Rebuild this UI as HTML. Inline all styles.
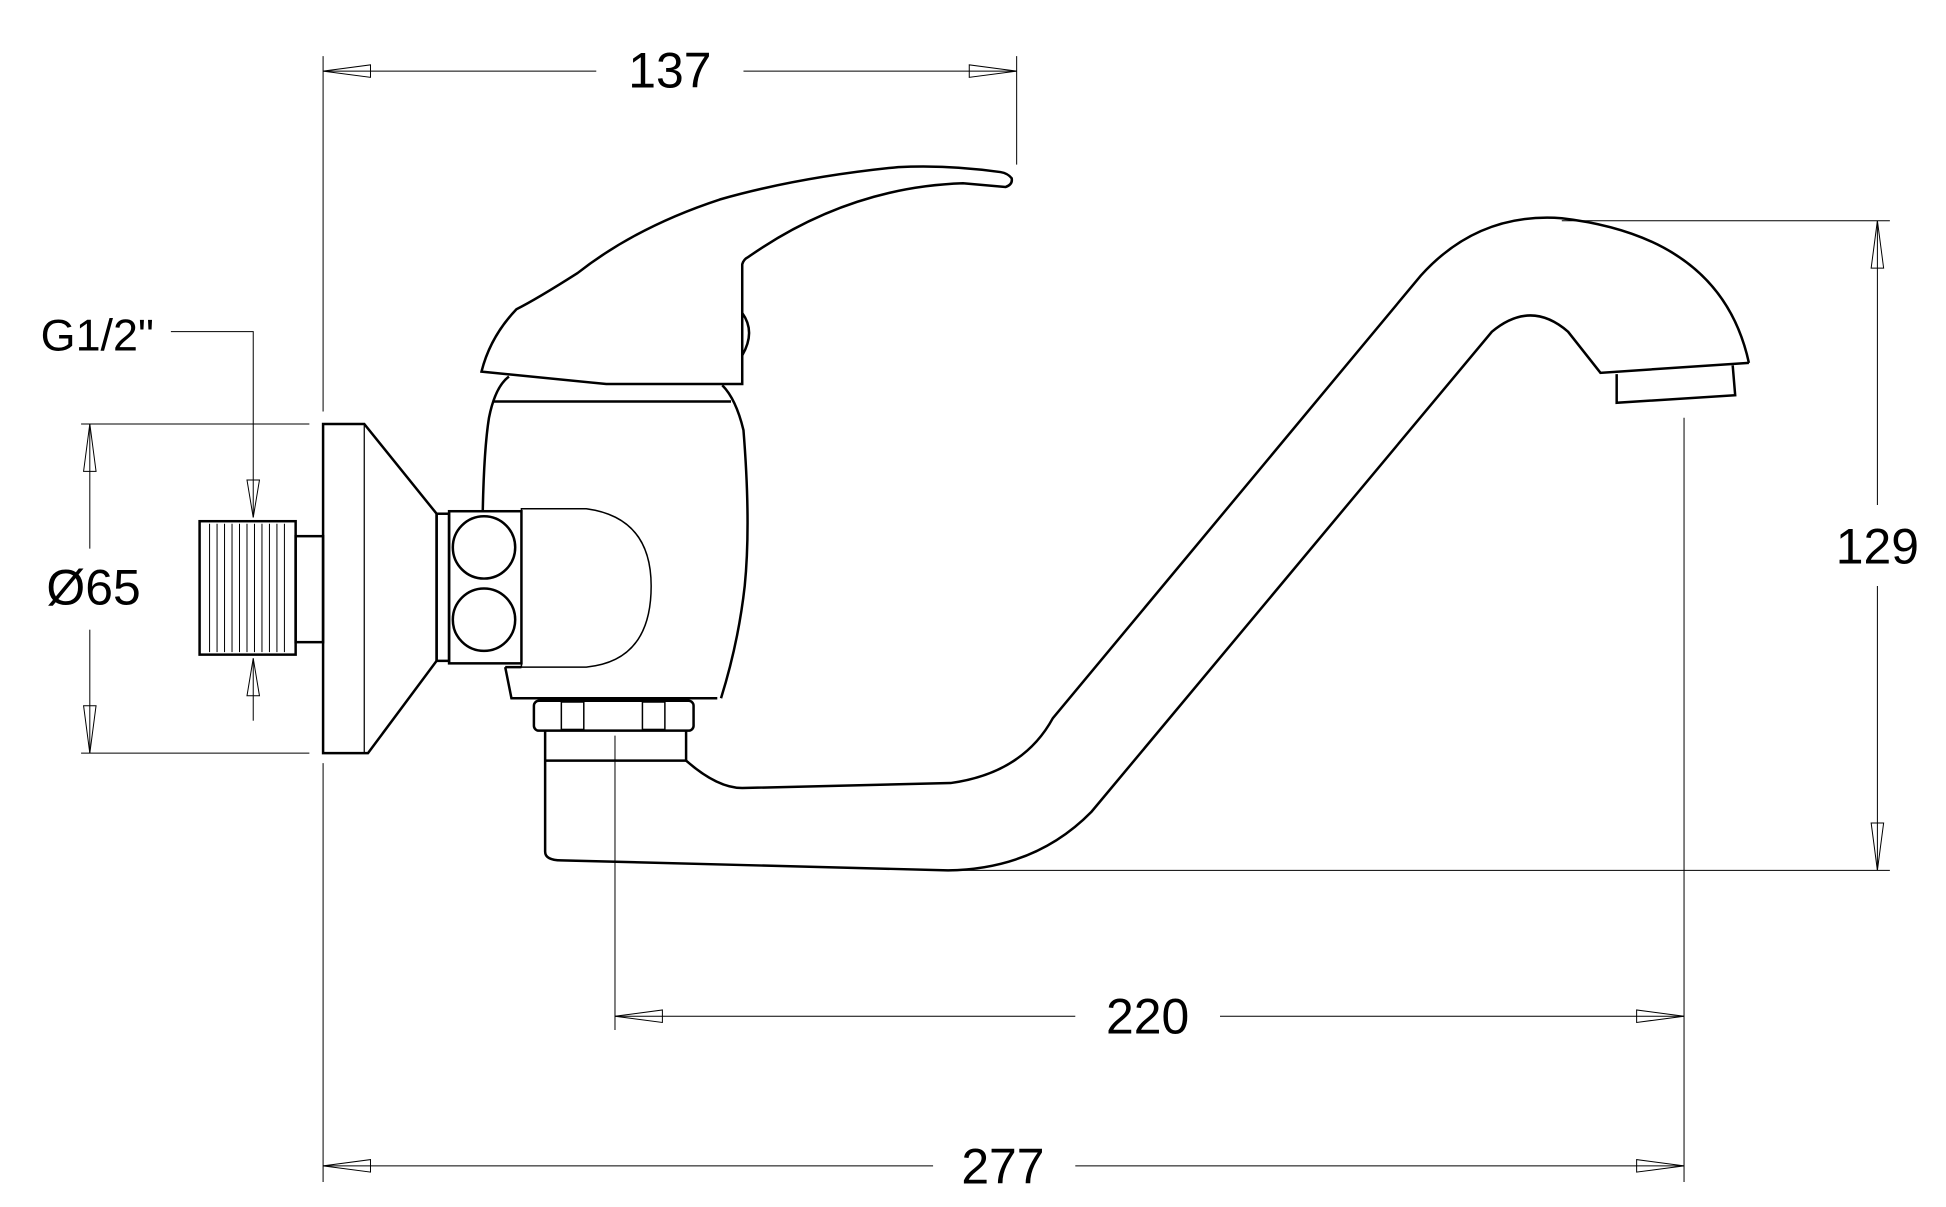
<!DOCTYPE html>
<html><head><meta charset="utf-8"><style>
html,body{margin:0;padding:0;background:#fff;}
svg{display:block;}
text{font-family:"Liberation Sans",sans-serif;fill:#000;}
</style></head><body>
<svg width="1946" height="1207" viewBox="0 0 1560 968" preserveAspectRatio="none" xmlns="http://www.w3.org/2000/svg">
<g fill="none" stroke="#000" stroke-width="0.8">
<line x1="259" y1="45" x2="259" y2="330"/>
<line x1="259" y1="612" x2="259" y2="948"/>
<line x1="815" y1="45" x2="815" y2="132"/>
<line x1="259" y1="57" x2="478" y2="57"/>
<line x1="596" y1="57" x2="815" y2="57"/>
<polygon points="259,57 297,52 297,62"/>
<polygon points="815,57 777,52 777,62"/>
<polyline points="137,266 203,266 203,415"/>
<polygon points="203,415 198,385 208,385"/>
<line x1="203" y1="528" x2="203" y2="578"/>
<polygon points="203,528 198,558 208,558"/>
<line x1="65" y1="340" x2="248" y2="340"/>
<line x1="65" y1="604" x2="248" y2="604"/>
<line x1="72" y1="340" x2="72" y2="440"/>
<line x1="72" y1="505" x2="72" y2="604"/>
<polygon points="72,340 67,378 77,378"/>
<polygon points="72,604 67,566 77,566"/>
<line x1="1252" y1="177" x2="1515" y2="177"/>
<line x1="1505" y1="177" x2="1505" y2="405"/>
<line x1="1505" y1="470" x2="1505" y2="698"/>
<polygon points="1505,177 1500,215 1510,215"/>
<polygon points="1505,698 1500,660 1510,660"/>
<line x1="760" y1="698" x2="1515" y2="698"/>
<line x1="1350" y1="335" x2="1350" y2="948"/>
<line x1="493" y1="590" x2="493" y2="826"/>
<line x1="493" y1="815" x2="862" y2="815"/>
<line x1="978" y1="815" x2="1350" y2="815"/>
<polygon points="493,815 531,810 531,820"/>
<polygon points="1350,815 1312,810 1312,820"/>
<line x1="259" y1="935" x2="748" y2="935"/>
<line x1="862" y1="935" x2="1350" y2="935"/>
<polygon points="259,935 297,930 297,940"/>
<polygon points="1350,935 1312,930 1312,940"/>
</g>
<g fill="none" stroke="#000" stroke-width="2">
<path d="M259,340 L292,340 L350,412 L350,530 L295,604 L259,604 Z"/>
<line x1="292" y1="340" x2="292" y2="604" stroke-width="1"/>
<rect x="237" y="430" width="22" height="85"/>
<rect x="160" y="418" width="77" height="107"/>
<g stroke-width="0.8">
<line x1="168" y1="420" x2="168" y2="523"/><line x1="174" y1="420" x2="174" y2="523"/>
<line x1="180" y1="420" x2="180" y2="523"/><line x1="186" y1="420" x2="186" y2="523"/>
<line x1="192" y1="420" x2="192" y2="523"/><line x1="198" y1="420" x2="198" y2="523"/>
<line x1="204" y1="420" x2="204" y2="523"/><line x1="210" y1="420" x2="210" y2="523"/>
<line x1="216" y1="420" x2="216" y2="523"/><line x1="222" y1="420" x2="222" y2="523"/>
<line x1="228" y1="420" x2="228" y2="523"/>
</g>
<rect x="350" y="412" width="10" height="118"/>
<rect x="360" y="410" width="58" height="122"/>
<circle cx="388" cy="439" r="25"/>
<circle cx="388" cy="497" r="25"/>
<path d="M418,408 L470,408 Q522,415 522,470 Q522,530 470,535 L418,535 Z" stroke-width="1.2"/>
<path d="M387,410 Q388,360 392,335 Q397,310 408,302"/>
<path d="M579,309 Q590,320 596,345 Q602,420 597,470 Q592,515 578,560"/>
<line x1="395" y1="322" x2="586" y2="322"/>
<path d="M405,535 L410,560 L575,560"/>
<line x1="405" y1="535" x2="418" y2="535"/>
<rect x="428" y="562" width="128" height="24" rx="4"/>
<rect x="450" y="563" width="18" height="22" stroke-width="1.2"/>
<rect x="515" y="563" width="18" height="22" stroke-width="1.2"/>
<path d="M437,586 L437,683 Q437,690 450,690 L760,698 Q830,697 875,651 L1196,266 Q1227,240 1257,266 L1283,299 L1402,291"/>
<line x1="550" y1="586" x2="550" y2="610"/>
<line x1="437" y1="610" x2="550" y2="610"/>
<path d="M550,610 Q575,632 595,632 L762,628 Q820,620 844,576 L1139,221 Q1185,170 1252,175 Q1380,190 1402,291"/>
<path d="M1296,300 L1296,323 L1391,317 L1389,293"/>
<path d="M386,298 L486,308 L595,308 L595,212 Q596,208 600,206 Q680,150 772,147 L806,150 Q812,148 811,143 Q808,139 802,138 Q760,132 720,134 Q640,142 577,160 Q510,182 463,219 Q430,240 414,248 Q393,270 386,298 Z"/>
<path d="M595,251 Q606,266 595,285"/>
</g>
<text x="537" y="70" font-size="40" text-anchor="middle">137</text>
<text x="78" y="281" font-size="36" text-anchor="middle">G1/2"</text>
<text x="75" y="485" font-size="40" text-anchor="middle">Ø65</text>
<text x="1505" y="452" font-size="40" text-anchor="middle">129</text>
<text x="920" y="829" font-size="40" text-anchor="middle">220</text>
<text x="804" y="949" font-size="40" text-anchor="middle">277</text>
</svg>
</body></html>
